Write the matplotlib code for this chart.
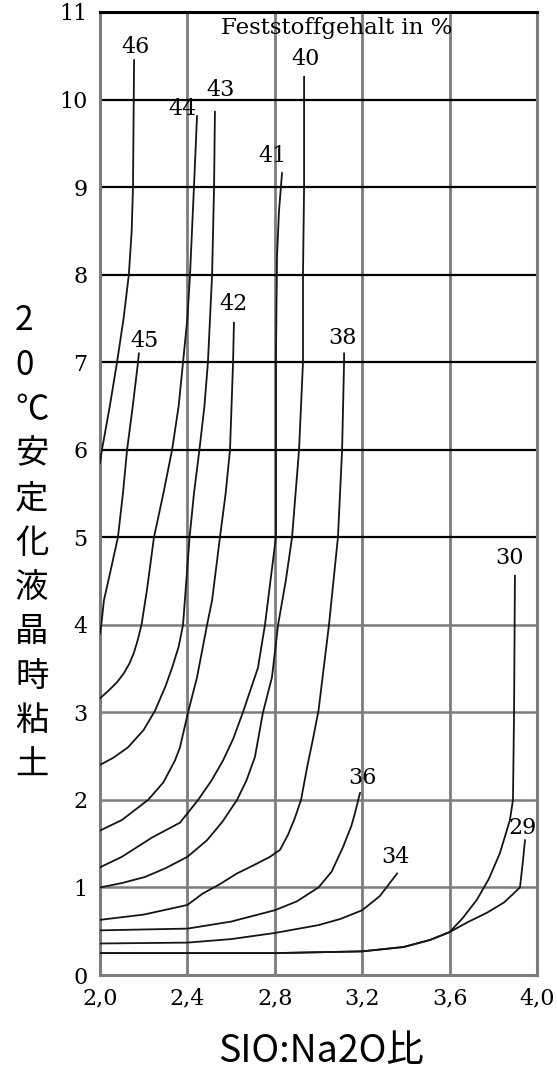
import matplotlib.pyplot as plt

# SiO2:Na2O ratio (x) vs. viscosity (y) for several solids contents (%)
x46 = [2.0, 2.009, 2.045, 2.078, 2.108, 2.132, 2.145, 2.151, 2.156]
y46 = [5.85, 6.0, 6.5, 7.0, 7.5, 8.0, 8.5, 9.0, 10.45]

x45 = [2.0, 2.006, 2.018, 2.045, 2.082, 2.105, 2.124, 2.15, 2.174, 2.178]
y45 = [3.9, 4.0, 4.28, 4.58, 5.0, 5.5, 6.0, 6.5, 7.0, 7.1]

x44 = [2.0, 2.04, 2.08, 2.11, 2.135, 2.155, 2.172, 2.19, 2.215, 2.247, 2.29, 2.33, 2.36, 2.38, 2.4, 2.412, 2.43, 2.444]
y44 = [3.16, 3.25, 3.35, 3.45, 3.56, 3.68, 3.82, 4.0, 4.4, 5.0, 5.5, 6.0, 6.5, 7.0, 7.5, 8.0, 9.0, 9.81]

x43 = [2.0, 2.06, 2.128, 2.2, 2.252, 2.3, 2.33, 2.36, 2.38, 2.395, 2.41, 2.43, 2.455, 2.478, 2.494, 2.513, 2.522, 2.526]
y43 = [2.4, 2.48, 2.6, 2.8, 3.02, 3.3, 3.51, 3.75, 4.0, 4.5, 5.0, 5.5, 6.0, 6.5, 7.0, 8.0, 9.0, 9.86]

x42 = [2.0, 2.1, 2.22, 2.29, 2.343, 2.366, 2.403, 2.444, 2.49, 2.513, 2.549, 2.575, 2.595, 2.609, 2.613]
y42 = [1.65, 1.77, 2.0, 2.2, 2.45, 2.6, 3.0, 3.4, 4.0, 4.28, 5.0, 5.5, 6.0, 7.0, 7.45]

x41 = [2.0, 2.1, 2.238, 2.366, 2.449, 2.51, 2.563, 2.61, 2.654, 2.723, 2.755, 2.769, 2.79, 2.805, 2.805, 2.81, 2.819, 2.833]
y41 = [1.23, 1.35, 1.57, 1.74, 2.0, 2.22, 2.45, 2.7, 3.0, 3.51, 4.0, 4.28, 4.7, 5.0, 7.0, 8.19, 8.72, 9.16]

x40 = [2.0, 2.1, 2.206, 2.3, 2.4, 2.49, 2.56, 2.627, 2.67, 2.709, 2.746, 2.787, 2.815, 2.85, 2.879, 2.911, 2.929, 2.929, 2.934, 2.934]
y40 = [1.0, 1.05, 1.12, 1.22, 1.35, 1.54, 1.75, 2.0, 2.22, 2.49, 3.0, 3.4, 4.0, 4.5, 5.0, 6.0, 7.0, 8.0, 9.0, 10.26]

x38 = [2.0, 2.2, 2.4, 2.47, 2.55, 2.627, 2.7, 2.778, 2.824, 2.86, 2.89, 2.92, 2.95, 2.975, 3.0, 3.048, 3.089, 3.108, 3.117, 3.117]
y38 = [0.63, 0.69, 0.8, 0.93, 1.04, 1.16, 1.25, 1.35, 1.43, 1.6, 1.78, 2.0, 2.4, 2.7, 3.02, 4.0, 5.0, 6.0, 7.0, 7.1]

x36 = [2.0, 2.4, 2.6, 2.8, 2.9, 3.0, 3.06, 3.112, 3.15, 3.167, 3.19]
y36 = [0.51, 0.53, 0.61, 0.74, 0.84, 1.0, 1.18, 1.46, 1.7, 1.85, 2.08]

x34 = [2.0, 2.4, 2.6, 2.8, 3.0, 3.1, 3.2, 3.28, 3.36]
y34 = [0.36, 0.37, 0.41, 0.48, 0.57, 0.64, 0.74, 0.9, 1.16]

x30 = [2.0, 2.4, 2.8, 3.2, 3.39, 3.51, 3.6, 3.66, 3.725, 3.78, 3.83, 3.876, 3.89, 3.895, 3.899]
y30 = [0.25, 0.25, 0.25, 0.27, 0.32, 0.4, 0.49, 0.65, 0.86, 1.1, 1.39, 1.77, 2.0, 3.0, 4.56]

x29 = [2.0, 2.4, 2.8, 3.2, 3.39, 3.51, 3.6, 3.68, 3.77, 3.85, 3.922, 3.936, 3.945]
y29 = [0.25, 0.25, 0.25, 0.27, 0.32, 0.4, 0.49, 0.6, 0.71, 0.83, 1.0, 1.31, 1.54]

curve_names = ['46', '45', '44', '43', '42', '41', '40', '38', '36', '34', '30', '29']
curves_x = [x46, x45, x44, x43, x42, x41, x40, x38, x36, x34, x30, x29]
curves_y = [y46, y45, y44, y43, y42, y41, y40, y38, y36, y34, y30, y29]

x_ticks = [2.0, 2.4, 2.8, 3.2, 3.6, 4.0]
x_ticklabels = ['2,0', '2,4', '2,8', '3,2', '3,6', '4,0']
y_ticks = list(range(0, 12))

ylabel_chars = ['2', '0', '℃', '安', '定', '化', '液', '晶', '時', '粘', '土']
xlabel = 'SIO:Na2O比'
inner_title = 'Feststoffgehalt in %'

W, H = 557, 1071
fig = plt.figure(figsize=(W / 100, H / 100), dpi=100)
ax = fig.add_axes([100 / W, 1 - 975 / H, 437 / W, 963 / H])

gray = '#7c7c7c'
serif = 'DejaVu Serif'

# grid: gray verticals, gray low horizontals, black upper horizontals
for xv in x_ticks[1:-1]:
    ax.axvline(xv, color=gray, lw=2.0, zorder=1)
for yv in y_ticks[1:-1]:
    ax.axhline(yv, color=('black' if yv >= 5 else gray),
               lw=(1.6 if yv >= 5 else 1.8), zorder=1)

for xs, ys in zip(curves_x, curves_y):
    ax.plot(xs, ys, color='#151515', lw=1.3, zorder=3)

# curve labels, offsets in pixels from the end of each curve
offsets = {'46': (1, 13), '45': (6, 12), '44': (-15, 7), '43': (6, 22),
           '42': (0, 19), '41': (-10, 17), '40': (1, 18), '38': (-2, 15),
           '36': (2, 15), '34': (-2, 16), '30': (-5, 18), '29': (-2, 12)}
for name, xs, ys in zip(curve_names, curves_x, curves_y):
    ax.annotate(name, (xs[-1], ys[-1]), xytext=offsets[name],
                textcoords='offset pixels', ha='center', va='center',
                fontsize=16, family=serif, zorder=4)

ax.text(0.542, 0.983, inner_title, transform=ax.transAxes, ha='center',
        va='center', fontsize=16.5, family=serif, zorder=4)

ax.set_xlim(2.0, 4.0)
ax.set_ylim(0, 11)
ax.set_xticks(x_ticks)
ax.set_xticklabels(x_ticklabels)
ax.set_yticks(y_ticks)
ax.tick_params(length=0, pad=9, labelsize=16)
for lbl in ax.get_xticklabels() + ax.get_yticklabels():
    lbl.set_family(serif)

for side in ['left', 'bottom', 'right']:
    ax.spines[side].set_color(gray)
    ax.spines[side].set_linewidth(2.2)
ax.spines['top'].set_color('black')
ax.spines['top'].set_linewidth(2.2)

# vertical y label, one character per line
cjk = ['Noto Sans CJK JP', 'DejaVu Sans']
for i, ch in enumerate(ylabel_chars):
    ypx = 321 + i * 44.4
    fig.text(15 / W, 1 - ypx / H, ch, ha='left', va='center',
             fontsize=24, family=cjk)

fig.text(321 / W, 1 - 1051 / H, xlabel, ha='center', va='center',
         fontsize=27, family=cjk)

fig.savefig('out.png', dpi=100)
